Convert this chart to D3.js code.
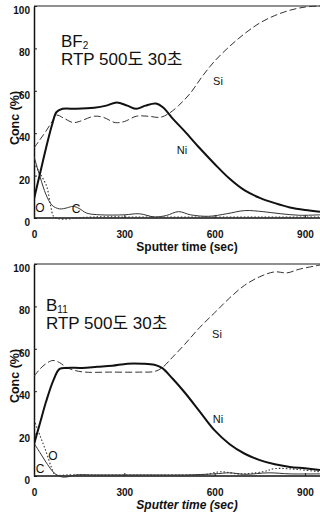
<!DOCTYPE html>
<html>
<head>
<meta charset="utf-8">
<script src="https://cdn.jsdelivr.net/npm/d3@7"></script>
<style>
  body { margin: 0; background: #fff; }
  svg { display: block; font-family: "Liberation Sans", Arial, "Noto Sans CJK KR", sans-serif; }
</style>
</head>
<body>
<div id="chart"></div>
<script>
// DATA (time in sec, concentration in %)
const xTicks = [0, 300, 600, 900];
const yTicks = [0, 20, 40, 60, 80, 100];

// BF2 sample
const bf2Ni = [[0,9],[20,21],[40,33],[60,44],[75,50],[95,51.5],[140,51.5],[200,52],[240,53],[275,54.5],[310,53],[340,51.5],[370,53],[405,54],[430,52],[460,47],[500,41],[550,33],[600,25.5],[650,18.5],[700,13],[750,9.5],[800,7],[850,5],[900,3.8],[950,3]];
const bf2Si = [[0,33],[20,37],[40,41],[60,45.5],[75,48.5],[100,47],[130,45],[150,45.5],[200,48],[230,47.5],[270,45],[300,45.5],[340,48],[380,48],[420,47.5],[450,49.5],[480,53],[520,59],[560,67],[600,74],[650,81],[700,87],[750,92],[800,95.5],[850,98],[900,99.5],[950,100]];
const bf2C = [[0,29],[20,19.5],[40,11],[60,6],[85,4.3],[110,4.8],[130,5.5],[150,4.5],[175,2.3],[220,1.5],[300,1.5],[350,2],[400,0.5],[440,1.2],[480,3],[520,1.5],[580,0.8],[640,2],[700,3.5],[760,3],[820,2],[880,1.3],[950,1.5]];
const bf2O = [[0,26],[20,21],[42,15],[55,6],[65,0.8],[80,-0.3],[110,-0.5],[140,0],[200,0.5],[300,0.5],[400,0.5],[500,0.5],[600,0.5],[700,0.5],[800,0.5],[950,0.5]];

// B11 sample
const b11Ni = [[0,15],[20,25],[40,35],[64,45],[85,50.5],[110,51],[160,51],[210,51.5],[260,52],[310,53],[360,53],[400,52.5],[425,51],[460,46],[500,39.5],[550,30.5],[600,21.5],[650,15],[700,10.5],[750,7.5],[800,5.5],[850,4.3],[900,3.6],[950,2.8]];
const b11Si = [[0,47],[20,50.5],[40,53],[63,54.5],[85,53.5],[105,51.5],[130,50],[170,49],[250,49],[350,49],[400,49.3],[425,51],[460,56],[500,62],[550,70],[600,77],[650,84],[700,90],[750,94],[800,96.3],[840,95.8],[880,97.5],[950,99.5]];
const b11C = [[0,15.5],[20,11],[40,6.5],[60,2.5],[75,0.5],[95,-0.5],[115,-0.3],[140,0.5],[200,0.5],[300,0.5],[400,0.5],[500,0.5],[600,1],[650,1.5],[700,0.8],[780,1.5],[850,1],[950,1]];
const b11O = [[0,26.5],[20,19],[40,11.5],[58,4],[68,1],[85,0.3],[110,0.5],[200,0.5],[300,0.5],[400,0.5],[500,0.5],[560,0.5],[620,2],[680,1],[760,2],[800,3.5],[880,3],[950,2]];

const width = 320,
  height = 512;

const panels = [
  {
    top: 6, bottom: 218,
    series: { Ni: bf2Ni, Si: bf2Si, C: bf2C, O: bf2O },
    title: ['BF', '2'], titleX: 61, titleY: 47, subY: 65,
    labels: [['Si', 218, 81], ['Ni', 182, 150], ['O', 40, 208], ['C', 76, 209]],
    italic: false
  },
  {
    top: 264, bottom: 476,
    series: { Ni: b11Ni, Si: b11Si, C: b11C, O: b11O },
    title: ['B', '11'], titleX: 46, titleY: 311, subY: 329,
    labels: [['Si', 217, 334], ['Ni', 218, 419], ['O', 53, 456], ['C', 40, 469]],
    italic: true
  }
];

// line styles for each element
const styles = {
  Ni: { width: 2, dash: null, color: '#111' },
  Si: { width: 1, dash: '7,3', color: '#333' },
  C: { width: 1, dash: null, color: '#333' },
  O: { width: 1.1, dash: '1.5,2', color: '#333' }
};

const svg = d3
  .select('#chart')
  .append('svg')
  .attr('width', width)
  .attr('height', height);

const xScale = d3.scaleLinear().domain([0, 950]).range([34, 320]);

panels.forEach((p, i) => {
  const yScale = d3.scaleLinear().domain([0, 100]).range([p.bottom, p.top]);
  const g = svg.append('g');

  // clip so the lines stop at the image edge
  svg
    .append('clipPath')
    .attr('id', 'clip' + i)
    .append('rect')
    .attr('x', 34)
    .attr('y', p.top - 2)
    .attr('width', width - 34)
    .attr('height', p.bottom - p.top + 6);

  // frame top line
  g.append('line')
    .attr('x1', 34)
    .attr('x2', width)
    .attr('y1', p.top)
    .attr('y2', p.top)
    .attr('stroke', '#222')
    .attr('stroke-width', 1.2);

  // AXES
  const yAxis = d3.axisLeft(yScale).tickValues(yTicks).tickSize(-3).tickSizeOuter(0).tickPadding(4);
  const xAxis = d3.axisBottom(xScale).tickValues(xTicks).tickSize(-3).tickSizeOuter(0).tickPadding(13);

  const ya = g.append('g').attr('transform', 'translate(34,0)').call(yAxis);
  const xa = g.append('g').attr('transform', `translate(0,${p.bottom})`).call(xAxis);

  [ya, xa].forEach(a => {
    a.select('.domain').attr('stroke', '#111').attr('stroke-width', 1.5);
    a.selectAll('.tick line').attr('stroke', '#222');
    a.selectAll('text')
      .attr('fill', '#111')
      .style('font-size', '10px')
      .style('font-weight', 'bold')
      .style('font-family', '"Liberation Sans", Arial, sans-serif');
  });
  ya.selectAll('text').attr('dy', '0.75em');
  // x axis line runs to edge
  xa.select('.domain').attr('d', `M34,0H${width}`);

  // axis titles
  g.append('text')
    .attr('x', 187)
    .attr('y', p.bottom + 33)
    .attr('text-anchor', 'middle')
    .style('font-size', '12px')
    .style('font-weight', 'bold')
    .style('font-style', p.italic ? 'italic' : 'normal')
    .attr('fill', '#111')
    .text('Sputter time (sec)');

  g.append('text')
    .attr('transform', `translate(15,${(p.top + p.bottom) / 2 + 6}) rotate(-90)`)
    .attr('text-anchor', 'middle')
    .attr('dy', '0.35em')
    .style('font-size', '12.5px')
    .style('font-weight', 'bold')
    .attr('fill', '#111')
    .text('Conc (%)');

  // LINES
  const line = d3
    .line()
    .x(d => xScale(d[0]))
    .y(d => yScale(d[1]))
    .curve(d3.curveCatmullRom.alpha(0.5));

  const lines = g.append('g').attr('clip-path', `url(#clip${i})`);
  ['O', 'C', 'Si', 'Ni'].forEach(k => {
    const s = styles[k];
    lines
      .append('path')
      .datum(p.series[k])
      .attr('fill', 'none')
      .attr('stroke', s.color)
      .attr('stroke-width', s.width)
      .attr('stroke-dasharray', s.dash)
      .attr('stroke-linejoin', 'round')
      .attr('d', line);
  });

  // sample title
  const t = g.append('text')
    .attr('x', p.titleX)
    .attr('y', p.titleY)
    .style('font-size', '17px')
    .attr('fill', '#111');
  t.append('tspan').text(p.title[0]);
  t.append('tspan').attr('dy', 2).style('font-size', '10px').text(p.title[1]);

  g.append('text')
    .attr('x', p.titleX)
    .attr('y', p.subY)
    .style('font-size', '17px')
    .attr('fill', '#111')
    .text('RTP 500도 30초');

  // element labels
  g.selectAll('.lbl')
    .data(p.labels)
    .join('text')
    .attr('x', d => d[1])
    .attr('y', d => d[2])
    .attr('text-anchor', 'middle')
    .attr('dy', '0.35em')
    .style('font-size', d => (d[0] === 'O' || d[0] === 'C') ? '12px' : '11px')
    .attr('fill', '#111')
    .text(d => d[0]);
});
</script>
</body>
</html>
